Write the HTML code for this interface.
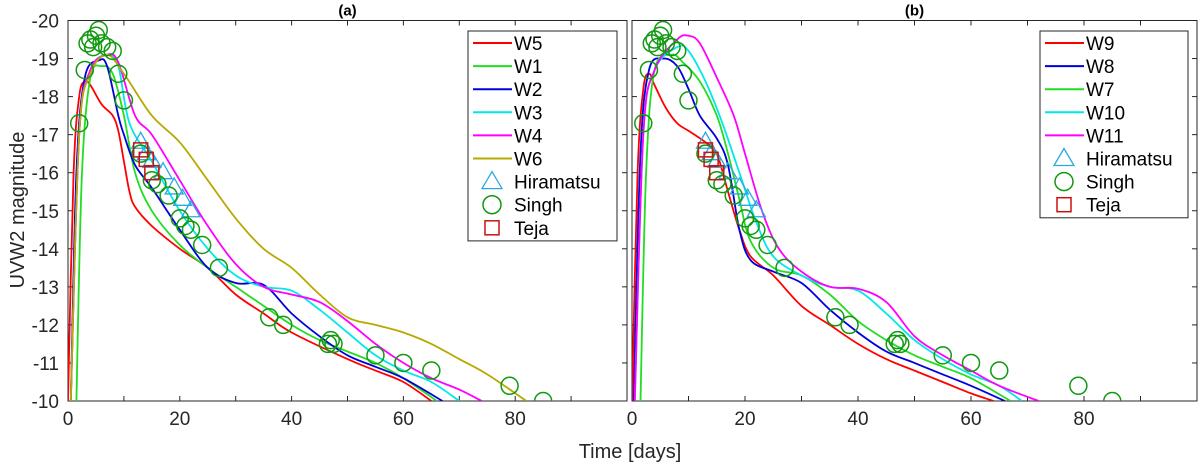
<!DOCTYPE html>
<html><head><meta charset="utf-8"><style>
body{margin:0;background:#fff;}
svg{display:block;font-family:"Liberation Sans",sans-serif;}
</style></head><body>
<svg id="chart" width="1200" height="466"></svg>
<script>
const obsSingh=[[2,-17.3],[3,-18.7],[3.5,-19.4],[4,-19.5],[4.5,-19.3],[5,-19.6],[5.5,-19.75],[6,-19.4],[7,-19.3],[8,-19.2],[9,-18.6],[10,-17.9],[13,-16.5],[15,-15.8],[16,-15.7],[18,-15.4],[20,-14.8],[21,-14.6],[22,-14.5],[24,-14.1],[27,-13.5],[36,-12.2],[38.5,-12],[46.5,-11.5],[47,-11.6],[47.5,-11.5],[55,-11.2],[60,-11],[65,-10.8],[79,-10.4],[85,-10]];
const obsHira=[[13,-16.8],[14,-16.5],[15,-16.3],[17,-16],[19,-15.6],[20.5,-15.3],[22,-15]];
const obsTeja=[[13,-16.6],[14,-16.35],[15,-16.0]];
const xTicks=[0,20,40,60,80];
const yTicks=[-20,-19,-18,-17,-16,-15,-14,-13,-12,-11,-10];
const leftNames=["W5","W1","W2","W3","W4","W6"];
const leftColors=["#ff0000","#22dd22","#0000dd","#00e8e8","#ff00ff","#b8a800"];
const leftSeries=[
[[0,-10],[1,-16],[2,-18],[3,-18.4],[4,-18.3],[6,-17.8],[8,-17.5],[9,-17.1],[10,-16.3],[11,-15.5],[12,-15.1],[15,-14.6],[20,-14],[25,-13.5],[30,-12.8],[35,-12.3],[40,-11.8],[50,-11.1],[55,-10.8],[60,-10.5],[65,-10]],
[[1.5,-10],[2.5,-16],[4,-18.5],[6,-18.8],[8,-18.6],[10,-17.5],[12,-16],[15,-15],[20,-14.1],[25,-13.5],[30,-13],[35,-12.5],[40,-12],[45,-11.6],[50,-11.3],[55,-11],[60,-10.6],[66,-10]],
[[0.5,-10],[1.5,-16],[3,-18.5],[5.5,-18.95],[7,-18.8],[9,-17.5],[10,-17],[12,-16.2],[15,-15.6],[20,-14.5],[25,-13.5],[30,-13.1],[35,-13.05],[40,-12.3],[45,-11.7],[50,-11.2],[55,-10.9],[60,-10.6],[67,-10]],
[[0.5,-10],[2,-17],[4,-18.7],[7,-19.1],[9,-18.8],[11,-17.3],[15,-16.3],[20,-15],[25,-14],[30,-13.3],[35,-13],[40,-12.9],[45,-12.4],[50,-11.8],[55,-11.2],[60,-10.8],[65,-10.5],[70,-10]],
[[0.5,-10],[2,-17],[4,-18.7],[7,-19.1],[9,-18.9],[12,-17.5],[15,-17],[20,-15.8],[25,-14.6],[30,-13.6],[35,-13],[40,-12.8],[45,-12.6],[50,-12.1],[55,-11.5],[60,-11],[65,-10.6],[70,-10.3],[74,-10]],
[[0.5,-10],[2,-17],[4,-18.6],[7,-19.1],[10,-18.6],[15,-17.5],[20,-16.8],[25,-15.8],[30,-14.8],[35,-14],[40,-13.5],[45,-12.8],[50,-12.2],[55,-12],[60,-11.8],[65,-11.5],[70,-11.1],[75,-10.7],[82,-10]]];
const rightNames=["W9","W8","W7","W10","W11"];
const rightColors=["#ff0000","#0000dd","#22dd22","#00e8e8","#ff00ff"];
const rightSeries=[
[[0,-10],[1,-16],[2,-18.2],[3,-18.6],[4,-18.3],[6,-17.7],[8,-17.3],[10,-17.1],[13,-16.8],[15,-16.5],[17,-15.5],[19,-14.5],[21,-13.8],[25,-13.3],[30,-12.5],[35,-12],[40,-11.5],[45,-11.1],[50,-10.8],[55,-10.5],[60,-10.2],[64,-10]],
[[0.3,-10],[1.5,-16.5],[3,-18.7],[5.5,-19],[8,-18.8],[10,-18.2],[12,-17.5],[15,-16.9],[17,-16.2],[19,-14.5],[21,-13.7],[25,-13.4],[30,-13.1],[35,-12.4],[40,-11.8],[45,-11.3],[50,-11],[55,-10.7],[60,-10.4],[66,-10]],
[[1.5,-10],[2.5,-16],[4,-18.7],[7,-19.1],[9,-18.9],[12,-18.4],[15,-17.5],[17,-16.5],[19,-15.3],[21,-14.2],[25,-13.5],[30,-13.3],[35,-12.8],[40,-12.1],[45,-11.6],[50,-11.2],[55,-10.9],[60,-10.6],[67,-10]],
[[0.5,-10],[2,-17],[4,-18.7],[8,-19.3],[10,-19.2],[13,-18.4],[16,-17.3],[19,-16],[22,-14.7],[25,-13.8],[30,-13.3],[35,-13],[40,-12.9],[45,-12.3],[50,-11.6],[55,-11.1],[60,-10.7],[65,-10.4],[69,-10]],
[[0.5,-10],[2,-17],[4,-18.7],[8,-19.5],[10,-19.6],[12,-19.4],[15,-18.5],[18,-17.5],[20,-16.5],[23,-15],[26,-14],[30,-13.4],[35,-13],[40,-12.95],[45,-12.6],[50,-11.7],[55,-11.2],[60,-10.8],[65,-10.4],[72,-10]]];

const NS="http://www.w3.org/2000/svg";
const svg=document.getElementById('chart');
function mk(tag,attrs,parent,name,inter){const e=document.createElementNS(NS,tag);for(const k in attrs)e.setAttribute(k,attrs[k]);(parent||svg).appendChild(e);


return e;}
function smooth(pts){
  let d='M'+pts[0][0].toFixed(1)+' '+pts[0][1].toFixed(1);
  for(let i=0;i<pts.length-1;i++){
    const p0=pts[Math.max(0,i-1)],p1=pts[i],p2=pts[i+1],p3=pts[Math.min(pts.length-1,i+2)];
    const c1=[p1[0]+(p2[0]-p0[0])/6,p1[1]+(p2[1]-p0[1])/6];
    const c2=[p2[0]-(p3[0]-p1[0])/6,p2[1]-(p3[1]-p1[1])/6];
    d+=` C${c1[0].toFixed(1)} ${c1[1].toFixed(1)} ${c2[0].toFixed(1)} ${c2[1].toFixed(1)} ${p2[0].toFixed(1)} ${p2[1].toFixed(1)}`;
  }
  return d;
}
function panel(px0,px1,title,names,colors,series,leg){
  const py0=20.5,py1=401;
  const g=mk('g',{},svg,'panel-'+title.replace(/[()]/g,''),false);
  const X=t=>px0+(t/100)*(px1-px0);
  const Y=v=>py0+(v+20)/10*(py1-py0);
  mk('rect',{x:px0,y:py0,width:px1-px0,height:py1-py0,fill:'#fff',stroke:'#262626','stroke-width':1},g,'plot-area',false);
  for(let t=0;t<=100;t+=10){mk('line',{x1:X(t),x2:X(t),y1:py1,y2:py1-5,stroke:'#262626'},g,'x-tick',false);mk('line',{x1:X(t),x2:X(t),y1:py0,y2:py0+5,stroke:'#262626'},g,'x-tick',false);}
  xTicks.forEach(t=>{const tx=mk('text',{x:X(t),y:py1+24,'text-anchor':'middle','font-size':19,fill:'#262626'},g,'x-tick-label',false);tx.textContent=t;});
  yTicks.forEach(v=>{mk('line',{x1:px0,x2:px0+5,y1:Y(v),y2:Y(v),stroke:'#262626'},g,'y-tick',false);mk('line',{x1:px1,x2:px1-5,y1:Y(v),y2:Y(v),stroke:'#262626'},g,'y-tick',false);});
  const tt=mk('text',{x:(px0+px1)/2,y:py0-5,'text-anchor':'middle','font-size':15,'font-weight':'bold',fill:'#000'},g,'panel-title',false);tt.textContent=title;
  const clip=mk('clipPath',{id:'clip'+px0},g,'clip',false);
  mk('rect',{x:px0,y:py0-12,width:px1-px0,height:py1-py0+12},clip,'clip-rect',false);
  const sg=mk('g',{'clip-path':'url(#clip'+px0+')'},g,'series-group',false);
  series.forEach((s,i)=>{
    const d=smooth(s.map(p=>[X(p[0]),Y(p[1])]));
    mk('path',{d:d,fill:'none',stroke:colors[i],'stroke-width':1.8,'stroke-linejoin':'round'},sg,'line-'+names[i].toLowerCase(),false);
  });
  obsHira.forEach(p=>{const x=X(p[0]),y=Y(p[1]);mk('polygon',{points:`${x},${y-10} ${x-9},${y+6} ${x+9},${y+6}`,fill:'none',stroke:'#2aa8e0','stroke-width':1.3},sg,'hiramatsu-point',false);});
  obsSingh.forEach(p=>{mk('circle',{cx:X(p[0]),cy:Y(p[1]),r:8.5,fill:'none',stroke:'#119911','stroke-width':1.5},sg,'singh-point',false);});
  obsTeja.forEach(p=>{mk('rect',{x:X(p[0])-7,y:Y(p[1])-7,width:14,height:14,fill:'none',stroke:'#cc1111','stroke-width':1.5},sg,'teja-point',false);});
  const items=names.length+3;
  const lh=23.1;
  const lg=mk('g',{},g,'legend',false);
  mk('rect',{x:leg.x,y:31,width:leg.w,height:items*lh+2,fill:'#fff',stroke:'#262626','stroke-width':1},lg,'legend-box',false);
  names.forEach((n,i)=>{const y=43+lh*i;
    mk('line',{x1:leg.x+5,x2:leg.x+44,y1:y,y2:y,stroke:colors[i],'stroke-width':2},lg,'legend-line',false);
    const t=mk('text',{x:leg.x+46,y:y+7,'font-size':19,fill:'#000'},lg,'legend-entry',false);t.textContent=n;});
  const labs=['Hiramatsu','Singh','Teja'];
  labs.forEach((n,k)=>{const i=names.length+k;const y=43+lh*i;const cx=leg.x+24;
    if(k==0)mk('polygon',{points:`${cx},${y-10} ${cx-10},${y+7} ${cx+10},${y+7}`,fill:'none',stroke:'#2aa8e0','stroke-width':1.3},lg,'legend-marker',false);
    if(k==1)mk('circle',{cx:cx,cy:y,r:9,fill:'none',stroke:'#119911','stroke-width':1.5},lg,'legend-marker',false);
    if(k==2)mk('rect',{x:cx-7,y:y-7,width:14,height:14,fill:'none',stroke:'#cc1111','stroke-width':1.5},lg,'legend-marker',false);
    const t=mk('text',{x:leg.x+46,y:y+7,'font-size':19,fill:'#000'},lg,'legend-entry',false);t.textContent=n;});
  return Y;
}
const Y=panel(68,627,'(a)',leftNames,leftColors,leftSeries,{x:468,w:149});
panel(632,1197,'(b)',rightNames,rightColors,rightSeries,{x:1040,w:148});
yTicks.forEach(v=>{const t=mk('text',{x:59,y:Y(v)+7,'text-anchor':'end','font-size':19,fill:'#262626'},svg,'y-tick-label',false);t.textContent=v;});
const yl=mk('text',{x:0,y:0,transform:'translate(24,210) rotate(-90)','text-anchor':'middle','font-size':20,fill:'#262626'},svg,'y-axis-title',false);yl.textContent='UVW2 magnitude';
const xl=mk('text',{x:630,y:458,'text-anchor':'middle','font-size':20,fill:'#262626'},svg,'x-axis-title',false);xl.textContent='Time [days]';
</script>
</body></html>
